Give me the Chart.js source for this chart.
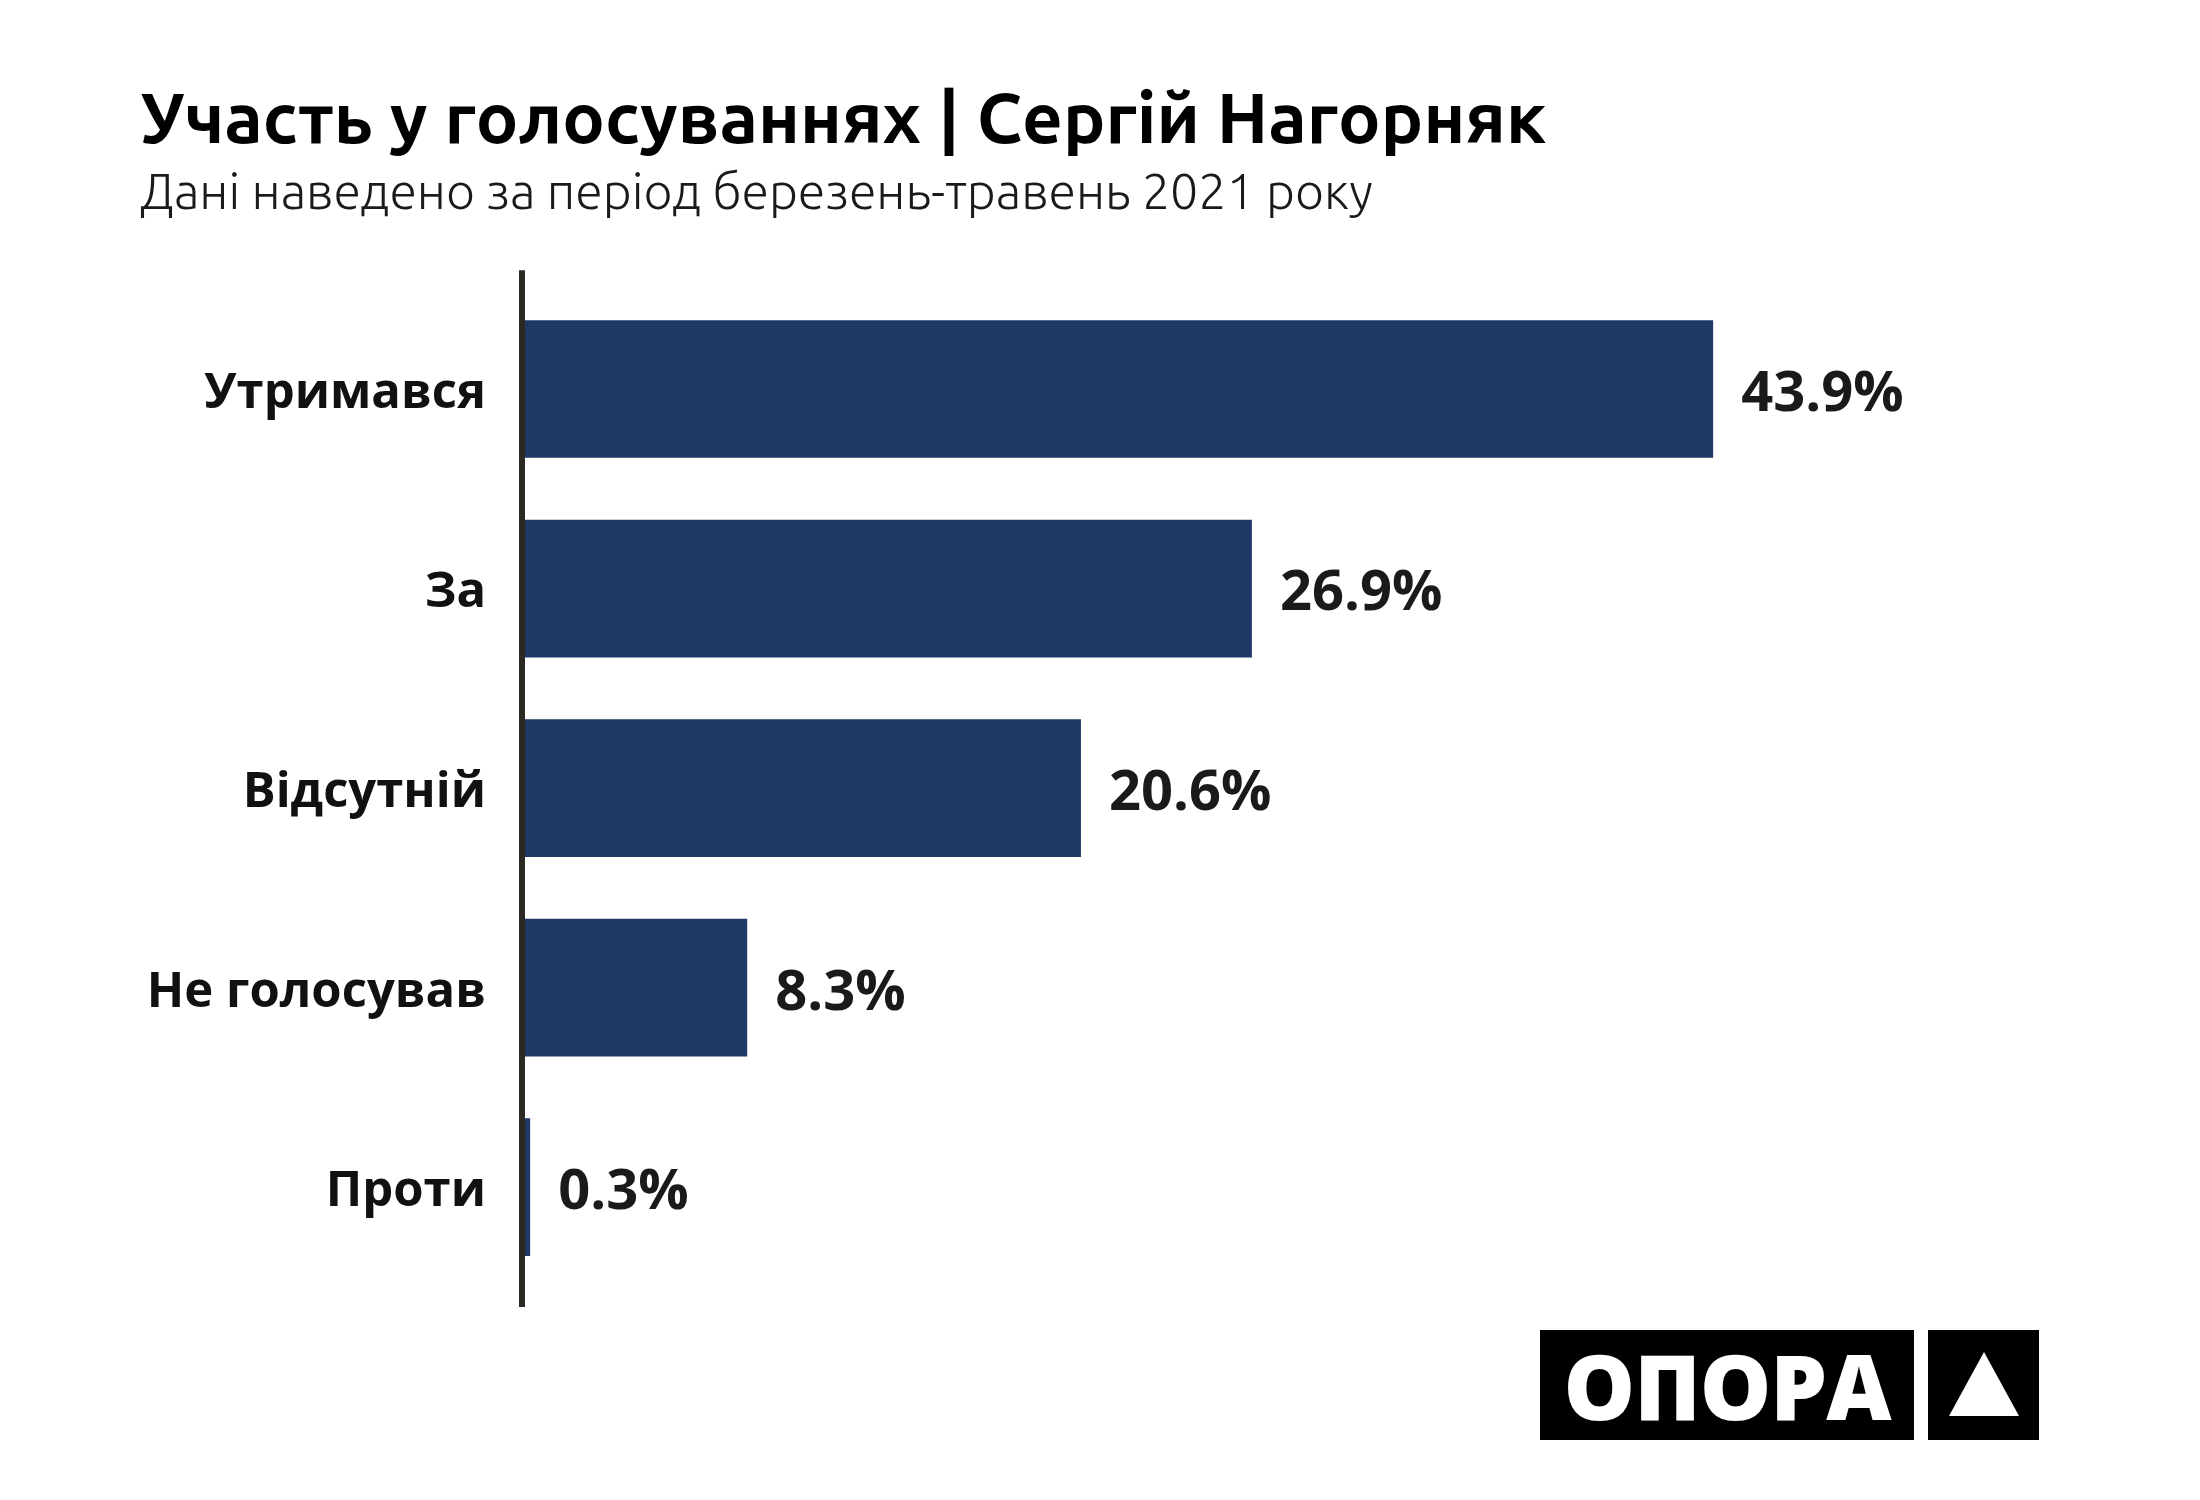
<!DOCTYPE html>
<html>
<head>
<meta charset="utf-8">
<script src="https://cdn.jsdelivr.net/npm/chart.js@4.4.0/dist/chart.umd.min.js"></script>
<style>
  html, body { margin: 0; padding: 0; background: #fff; }
  #wrap { position: relative; width: 2200px; height: 1500px; }
  #chart { position: absolute; left: 0; top: 0; }
  .logo { position: absolute; top: 1330px; height: 110px; background: #000; color: #fff;
          display: flex; align-items: center; justify-content: center; }
  #logoText { left: 1540px; width: 374px; font-family: "Open Sans", sans-serif; font-weight: 800;
              font-size: 90px; letter-spacing: -1px; }
  #logoMark { left: 1928px; width: 111px; }
</style>
</head>
<body>
<div id="wrap">
  <canvas id="chart" width="2200" height="1500"></canvas>
  <div class="logo" id="logoText">ОПОРА</div>
  <div class="logo" id="logoMark">
    <svg width="70" height="66" viewBox="0 0 70 66"><polygon points="35,0 70,64 0,64" fill="#fff"/></svg>
  </div>
</div>
<script>
const titulo = 'Участь у голосуваннях | Сергій Нагорняк';
const subtitulo = 'Дані наведено за період березень-травень 2021 року';
const categorias = ['Утримався', 'За', 'Відсутній', 'Не голосував', 'Проти'];
const porcentajes = [43.9, 26.9, 20.6, 8.3, 0.3];

// Línea vertical del eje (sobresale un poco del área)
const lineaEje = {
    id: 'lineaEje',
    afterDatasetsDraw(chart) {
        const { ctx, chartArea, scales } = chart;
        const x = scales.x.getPixelForValue(0);
        ctx.save();
        ctx.strokeStyle = '#2a2a22';
        ctx.lineWidth = 6;
        ctx.beginPath();
        ctx.moveTo(x, chartArea.top - 19);
        ctx.lineTo(x, chartArea.bottom + 20);
        ctx.stroke();
        ctx.restore();
    }
};

// Etiquetas de valor al final de cada barra
const etiquetasValor = {
    id: 'etiquetasValor',
    afterDatasetsDraw(chart) {
        const { ctx } = chart;
        const meta = chart.getDatasetMeta(0);
        ctx.save();
        ctx.font = 'bold 56px "Open Sans", sans-serif';
        ctx.fillStyle = '#1a1a1a';
        ctx.textAlign = 'left';
        ctx.textBaseline = 'middle';
        meta.data.forEach((barra, i) => {
            ctx.fillText(porcentajes[i].toFixed(1) + '%', barra.x + 28, barra.y + 6);
        });
        ctx.restore();
    }
};

new Chart(document.getElementById('chart').getContext('2d'), {
    type: 'bar',
    data: {
        labels: categorias,
        datasets: [{
            data: porcentajes,
            backgroundColor: '#1f3865',
            borderWidth: 0,
            categoryPercentage: 1,
            barPercentage: 0.69
        }]
    },
    options: {
        indexAxis: 'y',
        responsive: false,
        animation: false,
        layout: {
            padding: { top: 77, left: 140, right: 50, bottom: 213 }
        },
        plugins: {
            legend: { display: false },
            tooltip: { enabled: false },
            title: {
                display: true,
                text: titulo,
                align: 'start',
                color: '#000',
                font: { family: 'Ubuntu, "Open Sans", sans-serif', size: 71, weight: 'bold' },
                padding: { top: 0, bottom: 0 }
            },
            subtitle: {
                display: true,
                text: subtitulo,
                align: 'start',
                color: '#1a1a1a',
                font: { family: 'Ubuntu, "Open Sans", sans-serif', size: 50, weight: '300' },
                padding: { top: 0, bottom: 67 }
            }
        },
        scales: {
            x: {
                display: false,
                min: 0,
                max: 60
            },
            y: {
                grid: { display: false },
                border: { display: false },
                ticks: {
                    padding: 28,
                    labelOffset: 5,
                    color: '#111',
                    font: { family: '"Open Sans", sans-serif', size: 49, weight: 'bold' }
                },
                afterFit(scale) { scale.width = 382; }
            }
        }
    },
    plugins: [lineaEje, etiquetasValor]
});
</script>
</body>
</html>
